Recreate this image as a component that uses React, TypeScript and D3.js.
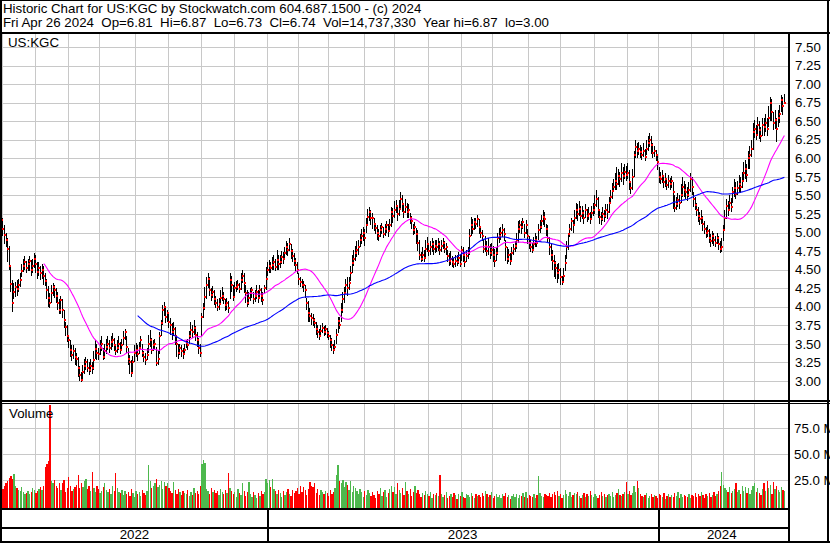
import React from "react";
import * as d3 from "d3";

// ---- data ----
const closes = [
  5.13,5.22,5.17,5.05,4.97,4.9,4.78,4.55,4.31,4.05,
  4.2,4.27,4.24,4.29,4.36,4.48,4.55,4.6,4.52,4.57,
  4.62,4.5,4.55,4.64,4.58,4.47,4.52,4.45,4.5,4.42,
  4.35,4.23,4.12,4.05,4.18,4.27,4.22,4.15,4.05,3.96,
  4.09,3.95,3.82,3.73,3.6,3.55,3.42,3.35,3.4,3.32,
  3.3,3.18,3.08,3.02,3.12,3.2,3.25,3.18,3.15,3.2,
  3.17,3.28,3.43,3.38,3.36,3.45,3.5,3.32,3.4,3.46,
  3.5,3.44,3.52,3.55,3.48,3.4,3.45,3.5,3.42,3.48,
  3.58,3.66,3.46,3.3,3.26,3.11,3.25,3.38,3.42,3.36,
  3.45,3.55,3.38,3.32,3.28,3.35,3.5,3.55,3.42,3.48,
  3.5,3.24,3.3,3.6,3.78,3.95,4.0,3.86,3.92,3.8,
  3.75,3.66,3.7,3.6,3.5,3.38,3.45,3.4,3.36,3.42,
  3.51,3.48,3.6,3.69,3.66,3.72,3.62,3.55,3.45,3.38,
  3.86,3.98,4.13,4.29,4.38,4.22,4.16,4.2,4.1,4.05,
  4.0,4.04,4.12,4.15,4.1,4.02,4.05,3.98,4.36,4.3,
  4.13,4.25,4.27,4.3,4.24,4.36,4.42,4.32,4.19,4.05,
  4.12,4.18,4.22,4.1,4.15,4.2,4.12,4.23,4.15,4.09,
  4.25,4.38,4.5,4.55,4.52,4.56,4.6,4.54,4.63,4.58,
  4.6,4.67,4.65,4.72,4.8,4.77,4.85,4.75,4.68,4.62,
  4.56,4.5,4.38,4.33,4.3,4.29,4.22,4.05,3.92,3.88,
  3.85,3.82,3.78,3.7,3.66,3.6,3.68,3.72,3.66,3.7,
  3.65,3.6,3.55,3.49,3.42,3.46,3.62,3.81,3.76,3.95,
  4.1,4.19,4.3,4.25,4.32,4.45,4.59,4.65,4.72,4.77,
  4.8,4.9,4.95,5.0,4.93,5.1,5.21,5.28,5.2,5.19,
  5.12,5.06,5.0,4.95,5.03,5.07,4.98,5.05,5.1,5.02,
  5.1,5.28,5.22,5.3,5.36,5.25,5.32,5.45,5.38,5.28,
  5.35,5.28,5.3,5.19,5.15,5.03,5.08,4.98,4.86,4.7,
  4.65,4.7,4.66,4.78,4.85,4.75,4.8,4.84,4.78,4.82,
  4.8,4.84,4.76,4.82,4.86,4.78,4.8,4.68,4.62,4.65,
  4.6,4.57,4.62,4.6,4.66,4.58,4.77,4.7,4.6,4.68,
  4.72,4.95,5.1,5.05,5.14,5.12,5.18,5.08,5.0,4.95,
  4.78,4.82,4.75,4.8,4.72,4.76,4.7,4.62,4.73,4.92,
  4.95,5.0,5.03,4.98,4.8,4.65,4.7,4.62,4.72,4.78,
  4.82,4.9,5.05,5.1,5.07,5.14,5.0,5.1,4.95,4.86,
  4.8,4.76,4.84,4.9,4.86,5.03,5.08,5.15,5.21,5.18,
  5.05,4.92,4.8,4.7,4.62,4.59,4.52,4.46,4.5,4.4,
  4.33,4.42,4.59,4.8,4.98,5.05,5.15,5.1,5.2,5.3,
  5.25,5.32,5.22,5.27,5.2,5.3,5.22,5.25,5.18,5.26,
  5.3,5.37,5.45,5.3,5.21,5.18,5.25,5.22,5.3,5.28,
  5.4,5.48,5.56,5.62,5.7,5.66,5.76,5.72,5.8,5.76,
  5.82,5.78,5.8,5.68,5.6,5.75,6.05,6.15,6.1,6.12,
  6.08,6.05,6.1,6.02,6.13,6.2,6.25,6.18,6.07,6.1,
  6.05,5.95,5.75,5.72,5.76,5.68,5.72,5.64,5.7,5.66,
  5.7,5.55,5.33,5.38,5.44,5.4,5.5,5.62,5.58,5.55,
  5.5,5.58,5.72,5.62,5.45,5.37,5.3,5.22,5.18,5.2,
  5.12,5.05,5.0,5.02,4.92,4.88,4.95,4.9,4.86,4.92,
  4.85,4.78,4.8,5.04,5.2,5.36,5.3,5.4,5.35,5.55,
  5.6,5.52,5.6,5.66,5.62,5.7,5.8,5.85,5.78,6.0,
  6.05,6.12,6.35,6.4,6.32,6.45,6.38,6.3,6.45,6.42,
  6.48,6.4,6.55,6.75,6.62,6.48,6.52,6.4,6.55,6.6,
  6.78,6.7,6.74,
];

const highs = [
  5.28,5.3,5.26,5.2,5.1,5.0,4.92,4.82,4.55,4.36,
  4.32,4.33,4.36,4.38,4.45,4.58,4.64,4.68,4.62,4.65,
  4.68,4.63,4.65,4.72,4.7,4.6,4.6,4.55,4.58,4.55,
  4.46,4.38,4.28,4.18,4.3,4.32,4.3,4.25,4.2,4.1,
  4.15,4.1,3.96,3.8,3.75,3.62,3.55,3.48,3.48,3.44,
  3.38,3.32,3.2,3.12,3.22,3.3,3.32,3.3,3.25,3.3,
  3.25,3.4,3.55,3.5,3.45,3.55,3.6,3.45,3.5,3.56,
  3.6,3.55,3.6,3.65,3.58,3.5,3.55,3.6,3.52,3.56,
  3.68,3.7,3.6,3.45,3.35,3.28,3.34,3.48,3.51,3.48,
  3.52,3.6,3.5,3.4,3.38,3.45,3.62,3.69,3.58,3.55,
  3.56,3.46,3.4,3.66,3.82,4.02,4.06,4.0,3.96,3.9,
  3.85,3.78,3.8,3.73,3.62,3.5,3.5,3.48,3.45,3.5,
  3.55,3.56,3.68,3.8,3.75,3.82,3.74,3.66,3.58,3.5,
  3.92,4.05,4.27,4.4,4.46,4.4,4.25,4.28,4.22,4.14,
  4.1,4.12,4.22,4.27,4.2,4.1,4.12,4.08,4.46,4.42,
  4.3,4.33,4.35,4.36,4.32,4.45,4.5,4.45,4.3,4.22,
  4.2,4.25,4.26,4.2,4.22,4.3,4.22,4.3,4.25,4.2,
  4.3,4.54,4.6,4.63,4.6,4.67,4.7,4.65,4.77,4.7,
  4.7,4.75,4.74,4.8,4.88,4.86,4.92,4.85,4.78,4.72,
  4.66,4.6,4.45,4.4,4.38,4.35,4.3,4.12,4.08,3.98,
  3.92,3.9,3.85,3.8,3.75,3.7,3.75,3.78,3.74,3.76,
  3.72,3.68,3.62,3.58,3.5,3.55,3.7,3.86,3.86,4.05,
  4.2,4.27,4.38,4.4,4.4,4.55,4.7,4.77,4.82,4.88,
  4.9,4.98,5.05,5.08,5.05,5.2,5.32,5.35,5.3,5.26,
  5.2,5.13,5.1,5.05,5.1,5.13,5.08,5.12,5.16,5.12,
  5.18,5.35,5.33,5.42,5.44,5.36,5.44,5.55,5.5,5.4,
  5.45,5.4,5.38,5.26,5.22,5.12,5.14,5.06,5.03,4.9,
  4.74,4.8,4.76,4.9,4.94,4.86,4.88,4.92,4.88,4.9,
  4.9,4.92,4.88,4.9,4.93,4.88,4.86,4.77,4.72,4.75,
  4.68,4.66,4.7,4.7,4.74,4.7,4.82,4.8,4.72,4.76,
  4.8,5.05,5.21,5.18,5.2,5.2,5.24,5.18,5.08,5.04,
  4.9,4.95,4.88,4.92,4.85,4.86,4.82,4.78,4.8,5.0,
  5.06,5.08,5.12,5.06,4.9,4.8,4.78,4.72,4.8,4.84,
  4.88,5.0,5.15,5.17,5.15,5.2,5.12,5.17,5.05,4.95,
  4.9,4.86,4.94,5.0,4.96,5.12,5.17,5.24,5.3,5.28,
  5.12,5.1,4.94,4.85,4.77,4.7,4.62,4.58,4.59,4.52,
  4.42,4.52,4.7,4.88,5.0,5.12,5.2,5.17,5.3,5.4,
  5.38,5.42,5.36,5.36,5.3,5.38,5.32,5.35,5.28,5.36,
  5.4,5.5,5.57,5.48,5.32,5.28,5.34,5.3,5.38,5.38,
  5.48,5.58,5.67,5.72,5.8,5.88,5.85,5.82,5.94,5.88,
  5.92,5.9,5.94,5.84,5.7,5.85,6.1,6.25,6.2,6.22,
  6.18,6.15,6.2,6.12,6.25,6.3,6.34,6.3,6.2,6.16,
  6.11,6.06,5.88,5.82,5.84,5.78,5.8,5.74,5.78,5.74,
  5.76,5.68,5.5,5.48,5.53,5.5,5.65,5.75,5.7,5.66,
  5.62,5.68,5.8,5.75,5.55,5.48,5.4,5.35,5.28,5.3,
  5.22,5.15,5.08,5.1,5.05,4.98,5.02,5.0,4.96,5.0,
  4.95,4.88,4.92,5.1,5.3,5.45,5.42,5.5,5.46,5.62,
  5.72,5.68,5.7,5.78,5.75,5.82,5.95,5.98,5.92,6.1,
  6.16,6.25,6.47,6.52,6.45,6.56,6.5,6.42,6.55,6.55,
  6.6,6.55,6.7,6.82,6.8,6.62,6.65,6.55,6.65,6.72,
  6.85,6.82,6.87,
];

const lows = [
  5.02,5.1,5.0,4.95,4.85,4.8,4.6,4.5,4.2,3.93,
  4.1,4.13,4.15,4.2,4.26,4.4,4.47,4.5,4.45,4.48,
  4.48,4.42,4.45,4.52,4.45,4.38,4.42,4.36,4.38,4.3,
  4.28,4.1,4.0,3.98,4.05,4.15,4.12,4.05,3.95,3.9,
  3.9,3.85,3.72,3.6,3.52,3.45,3.33,3.27,3.3,3.22,
  3.2,3.05,3.0,2.98,3.02,3.1,3.15,3.12,3.08,3.12,
  3.1,3.15,3.3,3.28,3.28,3.35,3.4,3.28,3.3,3.36,
  3.42,3.38,3.42,3.46,3.4,3.35,3.38,3.42,3.36,3.4,
  3.48,3.55,3.38,3.22,3.1,3.05,3.12,3.26,3.32,3.27,
  3.36,3.44,3.33,3.25,3.22,3.28,3.38,3.46,3.36,3.4,
  3.42,3.2,3.22,3.36,3.6,3.75,3.88,3.78,3.8,3.72,
  3.62,3.55,3.6,3.48,3.32,3.3,3.35,3.32,3.3,3.35,
  3.44,3.42,3.5,3.58,3.58,3.62,3.54,3.46,3.36,3.33,
  3.6,3.85,3.95,4.1,4.25,4.15,4.08,4.12,4.02,3.98,
  3.94,3.96,4.02,4.08,4.04,3.94,3.96,3.92,4.1,4.2,
  4.08,4.15,4.2,4.22,4.18,4.23,4.32,4.18,4.05,4.0,
  4.02,4.08,4.12,4.04,4.06,4.1,4.05,4.12,4.06,4.03,
  4.18,4.23,4.42,4.46,4.45,4.5,4.5,4.48,4.5,4.5,
  4.52,4.58,4.57,4.63,4.7,4.68,4.75,4.64,4.6,4.55,
  4.48,4.44,4.3,4.27,4.25,4.2,4.12,3.95,3.8,3.8,
  3.76,3.74,3.72,3.62,3.58,3.55,3.6,3.64,3.6,3.62,
  3.58,3.55,3.45,3.4,3.37,3.4,3.5,3.65,3.7,3.8,
  3.92,4.05,4.17,4.15,4.22,4.35,4.46,4.55,4.62,4.67,
  4.7,4.8,4.85,4.88,4.82,5.0,5.1,5.16,5.1,5.05,
  5.02,4.98,4.9,4.88,4.94,4.98,4.92,4.95,5.0,4.94,
  5.02,5.08,5.13,5.2,5.26,5.16,5.22,5.3,5.28,5.2,
  5.26,5.2,5.2,5.12,5.05,4.97,4.98,4.85,4.75,4.63,
  4.6,4.62,4.6,4.65,4.74,4.68,4.7,4.74,4.7,4.72,
  4.74,4.75,4.7,4.74,4.78,4.72,4.7,4.6,4.55,4.56,
  4.54,4.52,4.54,4.55,4.58,4.54,4.62,4.6,4.54,4.6,
  4.64,4.7,4.96,4.98,5.04,5.05,5.08,4.98,4.92,4.88,
  4.72,4.74,4.68,4.7,4.65,4.68,4.6,4.54,4.62,4.7,
  4.86,4.9,4.94,4.88,4.62,4.58,4.6,4.56,4.62,4.7,
  4.74,4.78,4.86,5.0,4.98,5.05,4.93,4.98,4.85,4.78,
  4.74,4.72,4.76,4.8,4.8,4.9,5.0,5.05,5.1,5.08,
  4.95,4.86,4.7,4.62,4.5,4.4,4.38,4.32,4.38,4.3,
  4.3,4.32,4.48,4.65,4.77,4.94,5.02,5.0,5.1,5.18,
  5.16,5.22,5.14,5.18,5.12,5.2,5.14,5.17,5.12,5.18,
  5.22,5.25,5.35,5.2,5.12,5.1,5.15,5.14,5.2,5.18,
  5.26,5.38,5.45,5.55,5.58,5.57,5.64,5.62,5.68,5.64,
  5.72,5.7,5.72,5.58,5.52,5.58,5.75,6.0,6.0,6.04,
  6.0,5.98,6.02,5.96,6.05,6.1,6.15,6.06,6.0,6.02,
  5.96,5.84,5.67,5.65,5.67,5.6,5.62,5.57,5.6,5.58,
  5.6,5.32,5.28,5.3,5.35,5.32,5.4,5.48,5.48,5.45,
  5.42,5.48,5.55,5.5,5.35,5.3,5.22,5.14,5.1,5.12,
  5.02,4.98,4.92,4.94,4.86,4.8,4.85,4.82,4.8,4.84,
  4.76,4.72,4.74,4.88,5.02,5.18,5.22,5.3,5.28,5.4,
  5.48,5.45,5.5,5.55,5.53,5.6,5.68,5.72,5.68,5.85,
  5.85,6.02,6.11,6.28,6.25,6.3,6.26,6.22,6.3,6.3,
  6.35,6.3,6.42,6.5,6.5,6.38,6.4,6.22,6.42,6.48,
  6.62,6.58,6.73,
];

// volume in millions of shares
const volumes = [
  16,18,15,17,20,22,24,27,29,26,
  31,20,18,16,15,19,14,12,13,15,
  12,14,18,16,13,15,17,19,16,20,
  38,41,43,97,24,22,25,20,18,22,
  16,22,25,14,18,28,20,15,17,19,
  21,30,18,22,19,24,26,17,20,15,
  33,18,14,20,17,13,15,19,22,16,
  14,17,12,20,15,32,18,14,13,16,
  11,15,12,14,10,17,13,9,15,12,
  14,10,16,13,11,15,40,24,18,20,
  22,26,19,21,24,17,23,20,22,18,
  15,13,23,16,12,17,14,11,15,13,
  12,16,10,14,11,18,13,15,12,20,
  41,44,42,17,15,12,18,14,16,13,
  15,11,17,14,12,16,13,32,18,15,
  12,14,9,17,13,11,22,15,10,14,
  23,12,9,14,11,8,13,10,15,12,
  14,26,22,25,19,26,17,15,12,16,
  13,9,15,11,14,17,12,10,16,13,
  15,18,12,20,14,19,16,11,17,23,
  20,19,22,13,17,11,16,14,12,15,
  13,10,16,12,14,18,30,40,24,22,
  25,19,23,21,16,24,14,20,18,15,
  12,17,14,9,15,11,16,13,10,14,
  11,8,15,12,18,10,14,16,9,13,
  17,20,14,19,12,22,16,13,18,11,
  23,15,12,17,10,14,20,13,16,12,
  9,13,11,15,12,10,14,8,12,11,
  13,10,30,12,9,11,14,8,10,12,
  9,13,11,7,12,10,14,9,8,12,
  11,9,13,10,8,12,10,11,9,13,
  10,15,12,9,11,14,8,10,12,9,
  11,8,12,10,13,9,11,7,10,12,
  9,12,8,11,10,13,9,14,8,11,
  10,9,12,8,11,29,13,10,9,12,
  11,10,13,9,12,14,11,15,10,12,
  8,11,16,12,10,14,9,11,13,12,
  14,10,8,11,13,9,12,10,15,11,
  9,12,10,8,11,14,10,12,9,11,
  12,10,14,9,11,13,17,11,10,12,
  14,23,12,15,11,13,20,14,24,18,
  12,10,9,11,13,8,10,12,9,11,
  10,8,12,11,9,13,7,10,12,9,
  11,9,13,10,14,8,12,9,11,10,
  9,12,8,11,10,13,9,12,10,14,
  11,8,12,10,13,9,11,14,10,12,
  15,20,33,21,18,16,14,19,13,15,
  17,22,14,16,12,20,15,19,13,18,
  12,16,20,22,14,18,13,11,17,22,
  15,24,18,21,12,23,17,20,16,14,
  19,16,14.7,
];

const priceTicks = [3, 3.25, 3.5, 3.75, 4, 4.25, 4.5, 4.75, 5, 5.25, 5.5, 5.75, 6, 6.25, 6.5, 6.75, 7, 7.25, 7.5];
const priceTickLabels = ["3.00","3.25","3.50","3.75","4.00","4.25","4.50","4.75","5.00","5.25","5.50","5.75","6.00","6.25","6.50","6.75","7.00","7.25","7.50"];
const volumeTicks = [25, 50, 75];
const volumeTickLabels = ["25.0 M", "50.0 M", "75.0 M"];
const maWindows = [30, 90];
const lastDate = "2024-04-26";
const holidays = [
  "2022-05-30","2022-06-20","2022-07-04","2022-09-05","2022-11-24","2022-12-26",
  "2023-01-02","2023-01-16","2023-02-20","2023-04-07","2023-05-29","2023-06-19",
  "2023-07-04","2023-09-04","2023-11-23","2023-12-25",
  "2024-01-01","2024-01-15","2024-02-19","2024-03-29",
];
const titleLine1 = "Historic Chart for US:KGC by Stockwatch.com 604.687.1500 - (c) 2024";
const titleLine2 = "Fri Apr 26 2024  Op=6.81  Hi=6.87  Lo=6.73  Cl=6.74  Vol=14,737,330  Year hi=6.87  lo=3.00";
const symbol = "US:KGC";

// ---- helpers ----
function tradingDates(n: number): Date[] {
  const hol = new Set(holidays);
  const out: Date[] = [];
  const d = new Date(lastDate + "T00:00:00Z");
  while (out.length < n) {
    const wd = d.getUTCDay();
    const key = d.toISOString().slice(0, 10);
    if (wd !== 0 && wd !== 6 && !hol.has(key)) out.unshift(new Date(d));
    d.setUTCDate(d.getUTCDate() - 1);
  }
  return out;
}

function sma(values: number[], w: number): [number, number][] {
  const out: [number, number][] = [];
  for (let i = w - 1; i < values.length; i++) {
    out.push([i, d3.mean(values.slice(i - w + 1, i + 1)) as number]);
  }
  return out;
}

const FONT = "'Liberation Sans', Arial, Helvetica, sans-serif";
const FS = 13.3;

export default function App() {
  const W = 830, H = 543;
  const plotL = 2, plotR = 788;
  const pTop = 34, pBot = 400;
  const vTop = 404, vBot = 508;

  const N = closes.length;
  const dates = tradingDates(N);
  const slot = 1.566;
  const x = d3.scaleLinear().domain([0, N]).range([-2.5, -2.5 + N * slot]);
  const y = d3.scaleLinear().domain([3, 7.5]).range([381, 47]);
  const yv = d3.scaleLinear().domain([0, 75]).range([506.5, 428]);

  // month & year boundaries
  const monthStarts: number[] = [];
  const yearStarts: number[] = [];
  for (let i = 1; i < N; i++) {
    if (dates[i].getUTCMonth() !== dates[i - 1].getUTCMonth()) monthStarts.push(i);
    if (dates[i].getUTCFullYear() !== dates[i - 1].getUTCFullYear()) yearStarts.push(i);
  }
  const yearSegs: { label: string; x0: number; x1: number }[] = [];
  const bounds = [0, ...yearStarts, N];
  for (let k = 0; k < bounds.length - 1; k++) {
    yearSegs.push({
      label: String(dates[bounds[k]].getUTCFullYear()),
      x0: Math.max(plotL, x(bounds[k])),
      x1: Math.min(plotR, x(bounds[k + 1])),
    });
  }

  const line = d3.line<[number, number]>().x((d) => x(d[0] + 0.5)).y((d) => y(d[1]));
  const maColors = ["#ff00ff", "#0000ff"];

  return (
    <svg
      width={W}
      height={H}
      viewBox={`0 0 ${W} ${H}`}
      style={{ position: "fixed", left: 0, top: 0, background: "#fff" }}
      fontFamily={FONT}
    >
      <defs>
        <clipPath id="pclip">
          <rect x={plotL} y={pTop} width={plotR - plotL} height={pBot - pTop} />
        </clipPath>
        <clipPath id="vclip">
          <rect x={plotL} y={vTop} width={plotR - plotL} height={vBot - vTop} />
        </clipPath>
      </defs>
      <rect x={0} y={0} width={W} height={H} fill="#fff" />

      {/* header */}
      <text x={3} y={13} fontSize={FS} fill="#000" style={{ whiteSpace: "pre" }}>{titleLine1}</text>
      <text x={3} y={27} fontSize={FS} fill="#000" style={{ whiteSpace: "pre" }}>{titleLine2}</text>

      {/* price grid */}
      <g clipPath="url(#pclip)" shapeRendering="crispEdges">
        {priceTicks.map((t) => (
          <line key={"hp" + t} x1={plotL} x2={plotR} y1={Math.round(y(t)) + 0.5} y2={Math.round(y(t)) + 0.5} stroke="#c8c8c8" />
        ))}
        {monthStarts.map((i) => (
          <line key={"vp" + i} x1={Math.round(x(i)) + 0.5} x2={Math.round(x(i)) + 0.5} y1={pTop} y2={pBot} stroke="#c8c8c8" />
        ))}
      </g>

      {/* volume grid */}
      <g clipPath="url(#vclip)" shapeRendering="crispEdges">
        {volumeTicks.map((t) => (
          <line key={"hv" + t} x1={plotL} x2={plotR} y1={Math.round(yv(t)) + 0.5} y2={Math.round(yv(t)) + 0.5} stroke="#c8c8c8" />
        ))}
        {monthStarts.map((i) => (
          <line key={"vv" + i} x1={Math.round(x(i)) + 0.5} x2={Math.round(x(i)) + 0.5} y1={vTop} y2={vBot} stroke="#c8c8c8" />
        ))}
      </g>

      {/* price bars */}
      <g clipPath="url(#pclip)">
        <g shapeRendering="crispEdges">
          {closes.map((c, i) => {
            const cx = Math.floor(x(i + 0.5));
            const hi = Math.max(highs[i], c);
            const lo = Math.min(lows[i], c);
            return (
              <rect key={"b" + i} x={cx} y={y(hi)} width={1} height={Math.max(1, y(lo) - y(hi))} fill="#000" />
            );
          })}
          {closes.map((c, i) => (
            <rect key={"c" + i} x={Math.floor(x(i + 0.5))} y={y(c) - 1} width={2} height={2} fill="#ff0000" />
          ))}
        </g>
        {maWindows.map((w, k) => (
          <path key={"ma" + w} d={line(sma(closes, w)) || ""} fill="none" stroke={maColors[k]} strokeWidth={1.1} />
        ))}
      </g>
      <text x={8} y={47} fontSize={FS} fill="#000">{symbol}</text>

      {/* volume bars */}
      <g clipPath="url(#vclip)" shapeRendering="crispEdges">
        {volumes.map((v, i) => {
          const prev = i > 0 ? closes[i - 1] : closes[i];
          const col = closes[i] > prev ? "#4db84d" : closes[i] < prev ? "#ff0000" : "#a8a8a8";
          return (
            <rect key={"v" + i} x={x(i) + 0.15} y={yv(v)} width={slot * 0.85} height={yv(0) - yv(v) + 2} fill={col} />
          );
        })}
      </g>
      <text x={9} y={418} fontSize={FS} fill="#000">Volume</text>

      {/* right axis labels */}
      {priceTicks.map((t, k) => (
        <text key={"pl" + t} x={795} y={y(t) + 4.7} fontSize={FS} fill="#000">{priceTickLabels[k]}</text>
      ))}
      {volumeTicks.map((t, k) => (
        <text key={"vl" + t} x={794} y={yv(t) + 4.7} fontSize={FS} fill="#000">{volumeTickLabels[k]}</text>
      ))}

      {/* year axis */}
      {yearSegs.map((s) => (
        <text key={"y" + s.label} x={(s.x0 + s.x1) / 2} y={539} fontSize={FS} textAnchor="middle" fill="#000">{s.label}</text>
      ))}
      <g shapeRendering="crispEdges" stroke="#000">
        {yearStarts.map((i) => (
          <line key={"ys" + i} x1={Math.round(x(i)) + 0.5} x2={Math.round(x(i)) + 0.5} y1={509} y2={542} strokeWidth={2} />
        ))}
        {/* frame lines */}
        <line x1={0} x2={W} y1={32.5} y2={32.5} strokeWidth={2} />
        <line x1={0} x2={W} y1={401} y2={401} strokeWidth={2} />
        <line x1={0} x2={W} y1={403.5} y2={403.5} strokeWidth={1} />
        <line x1={0} x2={plotR + 1} y1={509} y2={509} strokeWidth={2} />
        <line x1={0} x2={plotR + 1} y1={527.5} y2={527.5} strokeWidth={2} />
        <line x1={plotR + 1} x2={plotR + 1} y1={32} y2={H} strokeWidth={2} />
        <line x1={1} x2={1} y1={0} y2={H} strokeWidth={2} />
        <line x1={W - 2} x2={W - 2} y1={0} y2={H} strokeWidth={2} />
        <line x1={0} x2={W} y1={0.5} y2={0.5} strokeWidth={1} />
        <line x1={0} x2={W} y1={H - 1.5} y2={H - 1.5} strokeWidth={2} />
      </g>
    </svg>
  );
}
